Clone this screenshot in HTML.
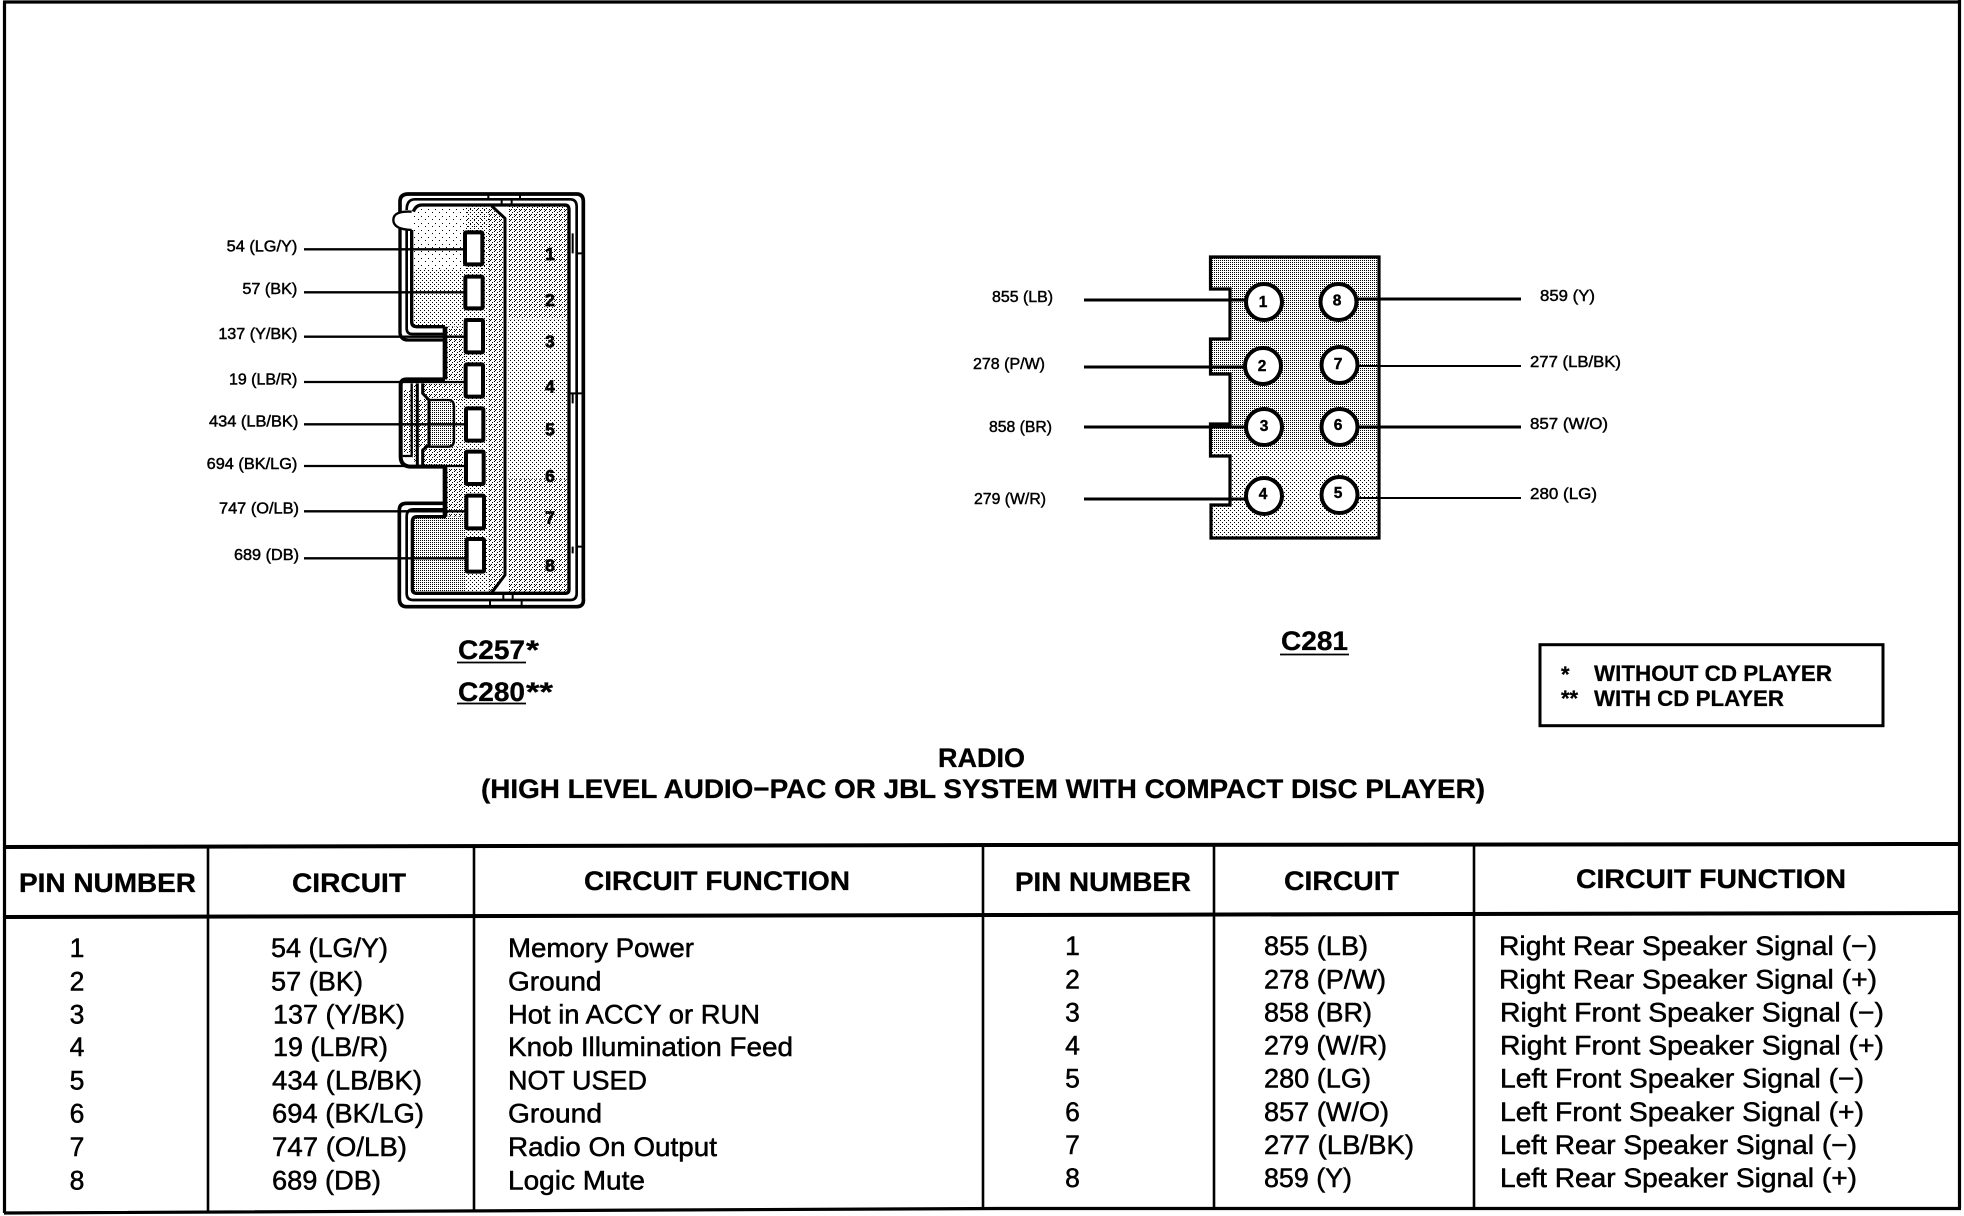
<!DOCTYPE html>
<html><head><meta charset="utf-8"><style>
html,body{margin:0;padding:0;background:#fff}
svg{display:block}
text{font-family:"Liberation Sans",sans-serif;fill:#000}
.b{font-weight:700}
.t{font-size:26.5px;stroke:#000;stroke-width:.5px}
.h{font-size:27px;font-weight:700;stroke:#000;stroke-width:.3px}
.l{font-size:15.5px;stroke:#000;stroke-width:.45px}
.z{font-size:47px;stroke:#000;stroke-width:1.4px}
.cap{font-size:27px;font-weight:700;stroke:#000;stroke-width:.3px}
.leg{font-size:22px;font-weight:700;stroke:#000;stroke-width:.25px}
</style></head><body>
<svg xmlns="http://www.w3.org/2000/svg" width="1964" height="1216" viewBox="0 0 1964 1216">
<defs>
<pattern id="d25" patternUnits="userSpaceOnUse" width="2" height="2" shape-rendering="crispEdges"><rect width="1" height="1"/></pattern>
<pattern id="d12" patternUnits="userSpaceOnUse" width="4" height="4" shape-rendering="crispEdges"><rect width="1" height="1"/><rect x="2" y="2" width="1" height="1"/></pattern>
<pattern id="z25" patternUnits="userSpaceOnUse" width="6" height="6" shape-rendering="crispEdges"><rect width="3" height="3"/></pattern>
<pattern id="z18" patternUnits="userSpaceOnUse" width="15" height="15" shape-rendering="crispEdges"><rect width="3" height="3"/><rect x="6" y="6" width="3" height="3"/><rect x="12" y="12" width="3" height="3"/><rect x="12" y="3" width="3" height="3"/><rect x="3" y="12" width="3" height="3"/></pattern>
<pattern id="z12" patternUnits="userSpaceOnUse" width="12" height="12" shape-rendering="crispEdges"><rect width="3" height="3"/><rect x="6" y="6" width="3" height="3"/></pattern>
<pattern id="z06" patternUnits="userSpaceOnUse" width="21" height="21" shape-rendering="crispEdges"><rect width="3" height="3"/><rect x="9" y="12" width="3" height="3"/></pattern>
<clipPath id="rc"><path d="M1210.5,257 H1379 V538 H1211 V505 H1230 V456 H1210.5 V424 H1230 V374 H1210.5 V339 H1230 V289 H1210.5 Z"/></clipPath>
</defs>
<rect width="1964" height="1216" fill="#fff"/>

<!-- outer frame -->
<path d="M3,2 H1961 M4.5,2 V1213 M1959.5,0 V1208" stroke="#000" stroke-width="3.2" fill="none"/>

<!-- left connector -->
<g transform="translate(180,170) scale(.33333)">
<rect x="700" y="110" width="230" height="190" fill="url(#z06)"/>
<rect x="700" y="300" width="155" height="170" fill="url(#z12)"/>
<rect x="855" y="110" width="70" height="190" fill="url(#z12)"/>
<path d="M925,110 L975,145 V1215 L935,1268 H925 Z" fill="url(#z18)"/>
<rect x="855" y="300" width="70" height="970" fill="url(#z12)"/>
<rect x="800" y="470" width="55" height="160" fill="url(#z18)"/>
<rect x="730" y="640" width="125" height="50" fill="url(#z18)"/>
<rect x="825" y="690" width="30" height="140" fill="url(#z12)"/>
<rect x="730" y="830" width="125" height="55" fill="url(#z18)"/>
<rect x="800" y="895" width="55" height="145" fill="url(#z18)"/>
<rect x="700" y="1040" width="155" height="230" fill="url(#z25)"/>
<rect x="985" y="108" width="180" height="340" fill="url(#z18)"/>
<rect x="985" y="448" width="180" height="480" fill="url(#z12)"/>
<rect x="985" y="928" width="180" height="342" fill="url(#z18)"/>
<path d="M750,695 H805 Q818,695 818,710 V810 Q818,826 805,826 H750 Z" fill="url(#z25)"/>
<rect x="672" y="660" width="20" height="190" fill="url(#z18)"/>
<rect x="698" y="645" width="12" height="230" fill="url(#z18)"/>
<rect x="716" y="690" width="26" height="140" fill="url(#z18)"/>
<g fill="none" stroke="#000" stroke-linejoin="round">
<path d="M745,690 H805 Q822,690 822,710 V810 Q822,830 805,830 H745" stroke-width="7"/>
<path d="M660,175 V95 Q660,72 685,72 H1190 Q1210,72 1210,95 V1285 Q1213,1310 1190,1310 H680 Q658,1310 658,1285 V1020 Q658,1000 680,1000 H795" stroke-width="11"/>
<path d="M660,175 V490 Q663,510 685,510 H795" stroke-width="10"/>
<path d="M680,120 Q680,88 705,88 H1170 Q1190,88 1190,110 V1270 Q1190,1290 1170,1290 H700 Q680,1290 680,1270 V1040 Q680,1018 700,1018 H795" stroke-width="8"/>
<path d="M680,180 V475 Q680,492 697,492 H795" stroke-width="8"/>
<path d="M700,125 Q708,105 725,105 H1155 Q1167,105 1167,120 V1258 Q1167,1270 1155,1270 H712 Q697,1270 697,1258 V1055 Q697,1040 712,1040 H798" stroke-width="10"/>
<path d="M695,180 V455 Q695,470 710,470 H795" stroke-width="10"/>
<path d="M795,470 V628 M795,890 V1040" stroke-width="14"/>
<path d="M795,628 H680 Q662,628 662,645 V860 Q662,888 690,890 H795" stroke-width="12"/>
<path d="M695,640 V858 H668" stroke-width="7"/>
<path d="M712,640 V888" stroke-width="9"/>
<path d="M728,640 V670 L747,690 V825 L728,840 V888" stroke-width="9"/>
<path d="M935,108 L975,145 V1215 L935,1268" stroke-width="9"/>
<path d="M695,125 Q640,122 640,150 Q640,178 695,180" stroke-width="7" fill="#fff"/>
<path d="M1178,190 V250 M1178,670 V700 M1178,1130 V1150 M1190,250 H1210 M1170,670 H1210 M1190,1130 H1210 M925,72 V88 M1020,72 V88 M930,1290 V1310 M1025,1290 V1310 M965,88 V105 M995,88 V105 M970,1272 V1290 M998,1272 V1290" stroke-width="6"/>
<path d="M372,238 H855 M372,367 H855 M372,500 H855 M372,636 H855 M372,763 H855 M372,888 H855 M372,1024 H855 M372,1165 H855" stroke-width="7"/>
</g>
<g fill="#fff" stroke="#000" stroke-width="12">
<rect x="855" y="187" width="52" height="96" rx="3"/>
<rect x="856" y="320" width="52" height="95" rx="3"/>
<rect x="857" y="450" width="52" height="97" rx="3"/>
<rect x="857" y="583" width="52" height="97" rx="3"/>
<rect x="858" y="715" width="52" height="97" rx="3"/>
<rect x="858" y="845" width="53" height="97" rx="3"/>
<rect x="859" y="977" width="53" height="98" rx="3"/>
<rect x="860" y="1107" width="52" height="98" rx="3"/>
</g>
<g class="b" font-size="52" text-anchor="middle" stroke="#000" stroke-width="2">
<text x="1110" y="270">1</text><text x="1110" y="408">2</text><text x="1110" y="533">3</text><text x="1110" y="667">4</text><text x="1110" y="797">5</text><text x="1110" y="936">6</text><text x="1110" y="1061">7</text><text x="1110" y="1204">8</text>
</g>
<text class="z" x="140" y="245" textLength="212" lengthAdjust="spacingAndGlyphs">54 (LG/Y)</text>
<text class="z" x="187" y="372" textLength="165" lengthAdjust="spacingAndGlyphs">57 (BK)</text>
<text class="z" x="115" y="507" textLength="237" lengthAdjust="spacingAndGlyphs">137 (Y/BK)</text>
<text class="z" x="147" y="643" textLength="205" lengthAdjust="spacingAndGlyphs">19 (LB/R)</text>
<text class="z" x="87" y="770" textLength="268" lengthAdjust="spacingAndGlyphs">434 (LB/BK)</text>
<text class="z" x="80" y="897" textLength="272" lengthAdjust="spacingAndGlyphs">694 (BK/LG)</text>
<text class="z" x="117" y="1030" textLength="240" lengthAdjust="spacingAndGlyphs">747 (O/LB)</text>
<text class="z" x="162" y="1170" textLength="195" lengthAdjust="spacingAndGlyphs">689 (DB)</text>
</g>

<!-- right connector -->
<g clip-path="url(#rc)">
<rect x="1205" y="250" width="180" height="200" fill="url(#d25)"/>
<rect x="1205" y="450" width="180" height="92" fill="url(#d12)"/>
</g>
<path d="M1210.5,257 H1379 V538 H1211 V505 H1230 V456 H1210.5 V424 H1230 V374 H1210.5 V339 H1230 V289 H1210.5 Z" fill="none" stroke="#000" stroke-width="3.2"/>
<g stroke="#000" fill="none">
<path d="M1084,300 H1250 M1084,367 H1250 M1084,427 H1250 M1084,499 H1250 M1357,299 H1521 M1357,427 H1521" stroke-width="3"/>
<path d="M1357,366 H1521 M1357,498 H1521" stroke-width="2"/>
</g>
<g fill="#fff" stroke="#000" stroke-width="4">
<circle cx="1264" cy="302" r="18"/><circle cx="1338.5" cy="302" r="18"/>
<circle cx="1263" cy="366" r="18"/><circle cx="1339.5" cy="365" r="18"/>
<circle cx="1264" cy="427" r="18"/><circle cx="1339.5" cy="427" r="18"/>
<circle cx="1264" cy="496" r="18"/><circle cx="1339.5" cy="495" r="18"/>
</g>
<g class="b" font-size="15.5" text-anchor="middle" stroke="#000" stroke-width=".4">
<text x="1263" y="307">1</text><text x="1337" y="305.5">8</text>
<text x="1262" y="371">2</text><text x="1338" y="369">7</text>
<text x="1264" y="431">3</text><text x="1338" y="430">6</text>
<text x="1263" y="499">4</text><text x="1338" y="498">5</text>
</g>
<text class="l" x="992" y="302" textLength="61" lengthAdjust="spacingAndGlyphs">855 (LB)</text>
<text class="l" x="973" y="369" textLength="72" lengthAdjust="spacingAndGlyphs">278 (P/W)</text>
<text class="l" x="989" y="432" textLength="63" lengthAdjust="spacingAndGlyphs">858 (BR)</text>
<text class="l" x="974" y="504" textLength="72" lengthAdjust="spacingAndGlyphs">279 (W/R)</text>
<text class="l" x="1540" y="301" textLength="55" lengthAdjust="spacingAndGlyphs">859 (Y)</text>
<text class="l" x="1530" y="367" textLength="91" lengthAdjust="spacingAndGlyphs">277 (LB/BK)</text>
<text class="l" x="1530" y="429" textLength="78" lengthAdjust="spacingAndGlyphs">857 (W/O)</text>
<text class="l" x="1530" y="499" textLength="67" lengthAdjust="spacingAndGlyphs">280 (LG)</text>

<!-- connector captions -->
<text class="cap" x="458" y="659" textLength="67" lengthAdjust="spacingAndGlyphs">C257</text>
<text class="cap" x="526" y="659" textLength="13" lengthAdjust="spacingAndGlyphs">*</text>
<text class="cap" x="458" y="701" textLength="67" lengthAdjust="spacingAndGlyphs">C280</text>
<text class="cap" x="526" y="701" textLength="27" lengthAdjust="spacingAndGlyphs">**</text>
<text class="cap" x="1281" y="650" textLength="67" lengthAdjust="spacingAndGlyphs">C281</text>
<path d="M457,662.5 H526 M457,703.5 H526 M1280,654.5 H1349" stroke="#000" stroke-width="1.8"/>

<!-- legend -->
<rect x="1540" y="644.7" width="343" height="81" fill="none" stroke="#000" stroke-width="3"/>
<text class="leg" x="1561" y="682">*</text>
<text class="leg" x="1594" y="681" textLength="238" lengthAdjust="spacingAndGlyphs">WITHOUT CD PLAYER</text>
<text class="leg" x="1561" y="706">**</text>
<text class="leg" x="1594" y="706" textLength="190" lengthAdjust="spacingAndGlyphs">WITH CD PLAYER</text>

<!-- title -->
<text class="h" x="938" y="767" textLength="87" lengthAdjust="spacingAndGlyphs">RADIO</text>
<text class="h" x="481" y="798" textLength="1004" lengthAdjust="spacingAndGlyphs">(HIGH LEVEL AUDIO−PAC OR JBL SYSTEM WITH COMPACT DISC PLAYER)</text>

<!-- table lines -->
<g stroke="#000" fill="none">
<path d="M4,847 L1000,845 L1960,844" stroke-width="4"/>
<path d="M4,917 L1000,915 L1960,913" stroke-width="4"/>
<path d="M4,1213 L1000,1208.5 L1961,1208.5" stroke-width="3.2"/>
<path d="M208,847 V1213 M474,847 V1211 M983,845 V1208 M1214,845 V1208 M1474,844 V1208" stroke-width="2.6"/>
</g>

<!-- table left -->
<text class="h" x="19" y="892" textLength="177" lengthAdjust="spacingAndGlyphs">PIN NUMBER</text>
<text class="h" x="292" y="892" textLength="114" lengthAdjust="spacingAndGlyphs">CIRCUIT</text>
<text class="h" x="584" y="890" textLength="266" lengthAdjust="spacingAndGlyphs">CIRCUIT FUNCTION</text>
<g class="t" text-anchor="middle">
<text x="77" y="957">1</text><text x="77" y="990.5">2</text><text x="77" y="1023.5">3</text><text x="77" y="1056">4</text><text x="77" y="1089.5">5</text><text x="77" y="1122.5">6</text><text x="77" y="1156">7</text><text x="77" y="1189.5">8</text>
</g>
<text class="t" x="271" y="957" textLength="117" lengthAdjust="spacingAndGlyphs">54 (LG/Y)</text>
<text class="t" x="271" y="990.5" textLength="92" lengthAdjust="spacingAndGlyphs">57 (BK)</text>
<text class="t" x="273" y="1023.5" textLength="132" lengthAdjust="spacingAndGlyphs">137 (Y/BK)</text>
<text class="t" x="273" y="1056" textLength="115" lengthAdjust="spacingAndGlyphs">19 (LB/R)</text>
<text class="t" x="272" y="1089.5" textLength="150" lengthAdjust="spacingAndGlyphs">434 (LB/BK)</text>
<text class="t" x="272" y="1122.5" textLength="152" lengthAdjust="spacingAndGlyphs">694 (BK/LG)</text>
<text class="t" x="272" y="1156" textLength="135" lengthAdjust="spacingAndGlyphs">747 (O/LB)</text>
<text class="t" x="272" y="1189.5" textLength="109" lengthAdjust="spacingAndGlyphs">689 (DB)</text>
<text class="t" x="508" y="957" textLength="186" lengthAdjust="spacingAndGlyphs">Memory Power</text>
<text class="t" x="508" y="990.5" textLength="93.5" lengthAdjust="spacingAndGlyphs">Ground</text>
<text class="t" x="508" y="1023.5" textLength="252" lengthAdjust="spacingAndGlyphs">Hot in ACCY or RUN</text>
<text class="t" x="508" y="1056" textLength="285" lengthAdjust="spacingAndGlyphs">Knob Illumination Feed</text>
<text class="t" x="508" y="1089.5" textLength="139" lengthAdjust="spacingAndGlyphs">NOT USED</text>
<text class="t" x="508" y="1122.5" textLength="94" lengthAdjust="spacingAndGlyphs">Ground</text>
<text class="t" x="508" y="1156" textLength="209" lengthAdjust="spacingAndGlyphs">Radio On Output</text>
<text class="t" x="508" y="1189.5" textLength="137" lengthAdjust="spacingAndGlyphs">Logic Mute</text>

<!-- table right -->
<text class="h" x="1015" y="891" textLength="176" lengthAdjust="spacingAndGlyphs">PIN NUMBER</text>
<text class="h" x="1284" y="890" textLength="115" lengthAdjust="spacingAndGlyphs">CIRCUIT</text>
<text class="h" x="1576" y="888" textLength="270" lengthAdjust="spacingAndGlyphs">CIRCUIT FUNCTION</text>
<g class="t" text-anchor="middle">
<text x="1072.5" y="955">1</text><text x="1072.5" y="988.5">2</text><text x="1072.5" y="1021.5">3</text><text x="1072.5" y="1054.5">4</text><text x="1072.5" y="1087.5">5</text><text x="1072.5" y="1121">6</text><text x="1072.5" y="1154">7</text><text x="1072.5" y="1187">8</text>
</g>
<text class="t" x="1264" y="955" textLength="104" lengthAdjust="spacingAndGlyphs">855 (LB)</text>
<text class="t" x="1264" y="988.5" textLength="122" lengthAdjust="spacingAndGlyphs">278 (P/W)</text>
<text class="t" x="1264" y="1021.5" textLength="108" lengthAdjust="spacingAndGlyphs">858 (BR)</text>
<text class="t" x="1264" y="1054.5" textLength="123" lengthAdjust="spacingAndGlyphs">279 (W/R)</text>
<text class="t" x="1264" y="1087.5" textLength="107" lengthAdjust="spacingAndGlyphs">280 (LG)</text>
<text class="t" x="1264" y="1121" textLength="125" lengthAdjust="spacingAndGlyphs">857 (W/O)</text>
<text class="t" x="1264" y="1154" textLength="150" lengthAdjust="spacingAndGlyphs">277 (LB/BK)</text>
<text class="t" x="1264" y="1187" textLength="88" lengthAdjust="spacingAndGlyphs">859 (Y)</text>
<text class="t" x="1499" y="955" textLength="378" lengthAdjust="spacingAndGlyphs">Right Rear Speaker Signal (−)</text>
<text class="t" x="1499" y="988.5" textLength="378" lengthAdjust="spacingAndGlyphs">Right Rear Speaker Signal (+)</text>
<text class="t" x="1500" y="1021.5" textLength="384" lengthAdjust="spacingAndGlyphs">Right Front Speaker Signal (−)</text>
<text class="t" x="1500" y="1054.5" textLength="384" lengthAdjust="spacingAndGlyphs">Right Front Speaker Signal (+)</text>
<text class="t" x="1500" y="1087.5" textLength="364" lengthAdjust="spacingAndGlyphs">Left Front Speaker Signal (−)</text>
<text class="t" x="1500" y="1121" textLength="364" lengthAdjust="spacingAndGlyphs">Left Front Speaker Signal (+)</text>
<text class="t" x="1500" y="1154" textLength="357" lengthAdjust="spacingAndGlyphs">Left Rear Speaker Signal (−)</text>
<text class="t" x="1500" y="1187" textLength="357" lengthAdjust="spacingAndGlyphs">Left Rear Speaker Signal (+)</text>
</svg>
</body></html>
